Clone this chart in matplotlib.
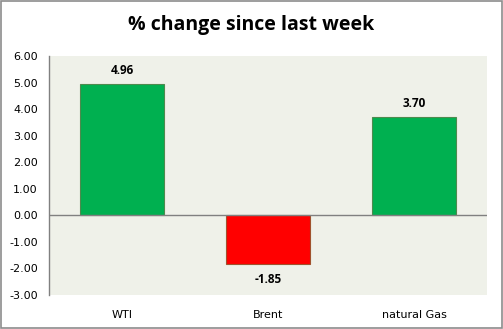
import matplotlib
matplotlib.use("Agg")
import matplotlib.pyplot as plt
from matplotlib.patches import Rectangle

categories = ["WTI", "Brent", "natural Gas"]
values = [4.96, -1.85, 3.70]
yticks = [6.0, 5.0, 4.0, 3.0, 2.0, 1.0, 0.0, -1.0, -2.0, -3.0]

fig = plt.figure(figsize=(5.03, 3.29), dpi=100)
ax = fig.add_axes([49/503, 1-295/329, 438/503, 239/329])
ax.set_facecolor("#EFF1E9")

colors = ["#00B050" if v >= 0 else "#FF0000" for v in values]
edges = ["#4E8A4E" if v >= 0 else "#A0522D" for v in values]
x = list(range(len(categories)))
ax.bar(x, values, width=0.575, color=colors, edgecolor=edges, linewidth=0.8, zorder=3)

for xi, v in zip(x, values):
    if v >= 0:
        ax.annotate(f"{v:.2f}", (xi, v), xytext=(0, 5), textcoords="offset points",
                    ha="center", va="bottom", fontsize=8.5, fontweight="bold", family="Open Sans")
    else:
        ax.annotate(f"{v:.2f}", (xi, v), xytext=(0, -6), textcoords="offset points",
                    ha="center", va="top", fontsize=8.5, fontweight="bold", family="Open Sans")

ax.set_xlim(-0.5, 2.5)
ax.set_ylim(-3, 6)
ax.set_yticks(yticks)
ax.set_yticklabels([f"{t:.2f}" for t in yticks])
ax.set_xticks(x)
ax.set_xticklabels(categories)
ax.tick_params(axis="y", length=0, pad=8, labelsize=8, colors="#000000")
ax.tick_params(axis="x", length=0, pad=11, labelsize=8)
ax.axhline(0, color="#808080", linewidth=1, zorder=4)
for s in ["top", "right", "bottom"]:
    ax.spines[s].set_visible(False)
ax.spines["left"].set_color("#808080")
ax.spines["left"].set_linewidth(1)

fig.text(0.5, 1-25/329, "% change since last week", ha="center", va="center",
         fontsize=14, fontweight="bold", family="Open Sans")

fig.patches.append(Rectangle((0.002, 0.003), 0.996, 0.994, transform=fig.transFigure,
                             fill=False, edgecolor="#8C8C8C", linewidth=1.2))
fig.savefig("out.png", dpi=100)
